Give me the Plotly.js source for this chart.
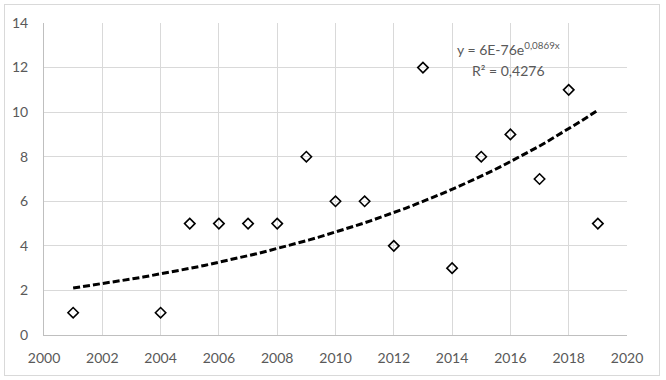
<!DOCTYPE html>
<html>
<head>
<meta charset="utf-8">
<script src="https://cdn.plot.ly/plotly-3.0.1.min.js"></script>
<style>
html,body{margin:0;padding:0;background:#fff;}
#wrap{position:relative;width:666px;height:380px;}
#chart{width:666px;height:380px;}
#frame{position:absolute;left:4px;top:4px;width:654px;height:370px;border:1px solid #d9d9d9;pointer-events:none;}
</style>
</head>
<body>
<div id="wrap"><div id="chart"></div><div id="frame"></div></div>
<script>
const years = [2001, 2004, 2005, 2006, 2007, 2008, 2009, 2010, 2011, 2012, 2013, 2014, 2015, 2016, 2017, 2018, 2019];
const values = [1, 1, 5, 5, 5, 5, 8, 6, 6, 4, 12, 3, 8, 9, 7, 11, 5];
const xTicks = [2000, 2002, 2004, 2006, 2008, 2010, 2012, 2014, 2016, 2018, 2020];
const yTicks = [0, 2, 4, 6, 8, 10, 12, 14];
const equationText = "y = 6E-76e<sup>0,0869x</sup>";
const r2Text = "R² = 0,4276";

// exponential least-squares fit on ln(y), as the spreadsheet trendline does
const n = years.length;
let sx = 0, sy = 0, sxx = 0, sxy = 0;
const x0 = 2000;
for (let i = 0; i < n; i++) {
  const xv = years[i] - x0, ly = Math.log(values[i]);
  sx += xv; sy += ly; sxx += xv * xv; sxy += xv * ly;
}
const b = (n * sxy - sx * sy) / (n * sxx - sx * sx);
const lnA = (sy - b * sx) / n;
const tx = [], ty = [];
const xmin = Math.min(...years), xmax = Math.max(...years);
for (let k = 0; k <= 60; k++) {
  const xv = xmin + (xmax - xmin) * k / 60;
  tx.push(xv);
  ty.push(Math.exp(lnA + b * (xv - x0)));
}

const font = {family: "Lato, Liberation Sans, Arial, sans-serif", size: 14, color: "#595959"};

Plotly.newPlot("chart", [
  {x: tx, y: ty, type: "scatter", mode: "lines",
   line: {color: "#000", width: 3, dash: "7px,3px"}, hoverinfo: "skip"},
  {x: years, y: values, type: "scatter", mode: "markers",
   marker: {symbol: "diamond-open", size: 8, color: "#000", line: {width: 1.6, color: "#000"}}}
], {
  width: 666, height: 380,
  margin: {l: 44, r: 39, t: 23, b: 45},
  showlegend: false,
  paper_bgcolor: "#fff", plot_bgcolor: "#fff",
  font: font,
  xaxis: {range: [2000, 2020], tickvals: xTicks, ticktext: xTicks.map(String),
          showgrid: true, gridcolor: "#d9d9d9", gridwidth: 1,
          showline: true, linecolor: "#bfbfbf", linewidth: 1, mirror: false,
          zeroline: false, ticks: "", ticklabelstandoff: 10, tickfont: font},
  yaxis: {range: [0, 14], tickvals: yTicks, ticktext: yTicks.map(String),
          showgrid: true, gridcolor: "#d9d9d9", gridwidth: 1,
          showline: true, linecolor: "#bfbfbf", linewidth: 1,
          zeroline: false, ticks: "", ticklabelstandoff: 12, tickfont: font},
  annotations: [
    {x: 2015.95, y: 12.85, xref: "x", yref: "y", text: equationText, showarrow: false,
     font: font, xanchor: "center", yanchor: "middle"},
    {x: 2015.95, y: 11.85, xref: "x", yref: "y", text: r2Text, showarrow: false,
     font: font, xanchor: "center", yanchor: "middle"}
  ]
}, {displayModeBar: false, staticPlot: true});
</script>
</body>
</html>
